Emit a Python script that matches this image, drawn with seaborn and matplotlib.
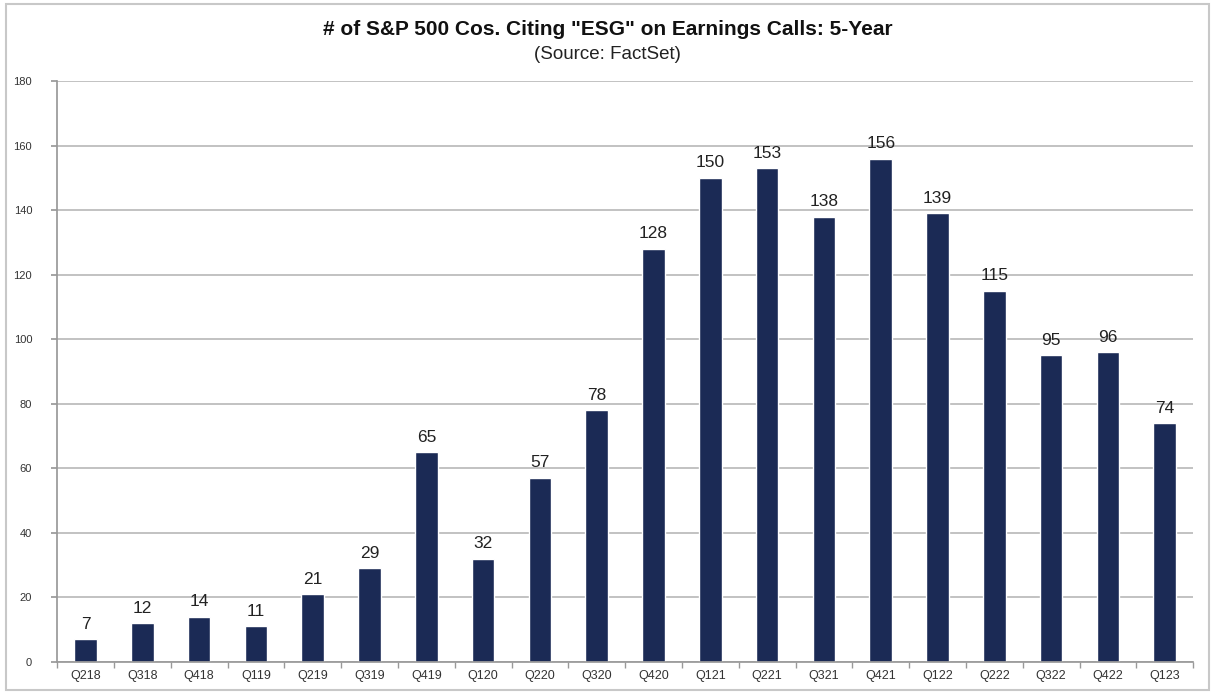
import matplotlib
matplotlib.use("Agg")
import matplotlib.pyplot as plt
import seaborn as sns
import pandas as pd
from matplotlib.patches import Rectangle

quarters = ["Q218", "Q318", "Q418", "Q119", "Q219", "Q319", "Q419", "Q120", "Q220", "Q320",
            "Q420", "Q121", "Q221", "Q321", "Q421", "Q122", "Q222", "Q322", "Q422", "Q123"]
counts = [7, 12, 14, 11, 21, 29, 65, 32, 57, 78, 128, 150, 153, 138, 156, 139, 115, 95, 96, 74]
yticks = [0, 20, 40, 60, 80, 100, 120, 140, 160, 180]

df = pd.DataFrame({"quarter": quarters, "count": counts})

sns.set_theme(style="white")
plt.rcParams['font.family'] = ['Liberation Sans', 'DejaVu Sans']

fig = plt.figure(figsize=(12.15, 6.93), dpi=100)
ax = fig.add_axes([0.047, 0.045, 0.935, 0.838])

sns.barplot(data=df, x="quarter", y="count", color="#1b2a55", saturation=1,
            width=0.4, ax=ax)

for i, v in enumerate(counts):
    ax.text(i, v + 2.3, str(v), ha="center", va="bottom", fontsize=12.5, color="#222222")

ax.set_ylim(0, 180)
ax.set_xlim(-0.5, len(quarters) - 0.5)
ax.set_yticks(yticks)
ax.set_yticklabels([str(t) for t in yticks], fontsize=8, color="#333333")
ax.tick_params(axis="x", labelsize=9, labelcolor="#333333", length=0, pad=6)
ax.tick_params(axis="y", length=4, color="#999999", pad=14, left=True)
ax.set_xlabel("")
ax.set_ylabel("")
ax.yaxis.grid(True, color="#b8b8b8", linewidth=1.2)
ax.set_axisbelow(True)
for s in ["top", "right"]:
    ax.spines[s].set_visible(False)
ax.spines["left"].set_color("#999999")
ax.spines["bottom"].set_color("#999999")

ax.set_xticks([i - 0.5 for i in range(len(quarters) + 1)], minor=True)
ax.tick_params(axis="x", which="minor", length=4, color="#999999", bottom=True)

fig.text(0.5, 0.958, '# of S&P 500 Cos. Citing "ESG" on Earnings Calls: 5-Year',
         ha="center", va="center", fontsize=15, fontweight="bold", color="#111111")
fig.text(0.5, 0.921, '(Source: FactSet)', ha="center", va="center", fontsize=13.5, color="#222222")

fig.patches.append(Rectangle((0.005, 0.004), 0.99, 0.99, transform=fig.transFigure,
                             fill=False, edgecolor="#c8c8c8", linewidth=1.5))

fig.savefig("out.png", dpi=100)
